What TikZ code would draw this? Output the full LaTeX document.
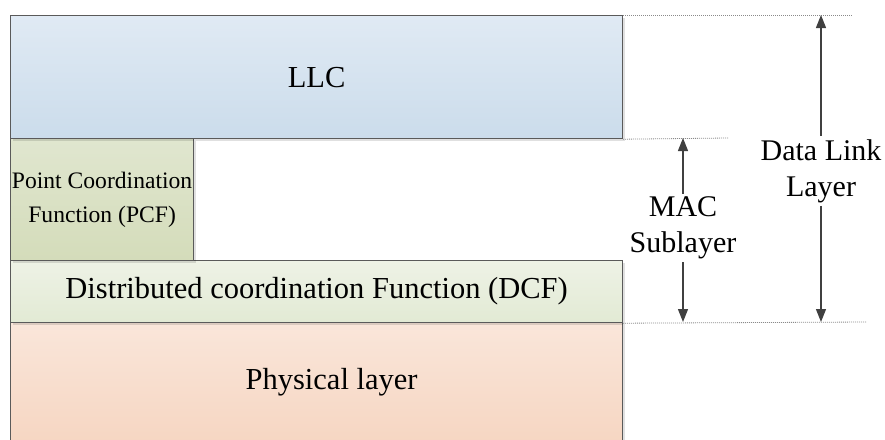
\documentclass[tikz,border=0pt]{standalone}
\usepackage{fontspec}
\setmainfont{Liberation Serif}
\usetikzlibrary{arrows.meta,shadows}
\definecolor{llcTop}{HTML}{E0EAF4}
\definecolor{llcBot}{HTML}{CBDCEB}
\definecolor{pcfTop}{HTML}{E0E6CF}
\definecolor{pcfBot}{HTML}{D4DCBA}
\definecolor{dcfTop}{HTML}{EEF2E6}
\definecolor{dcfBot}{HTML}{E2EAD4}
\definecolor{phyTop}{HTML}{FAE6DA}
\definecolor{phyBot}{HTML}{F6D6C2}
\definecolor{boxline}{HTML}{5A5A5A}
\definecolor{arrowgray}{HTML}{404040}
\definecolor{guidegray}{HTML}{8A8A8A}
\begin{document}
\begin{tikzpicture}[x=1pt,y=-1pt,
  layerbox/.style={rectangle, draw=boxline, line width=1.2pt, anchor=north west,
    inner sep=0pt, align=center, font=\fontsize{30.5}{36}\selectfont,
    drop shadow={shadow xshift=2pt, shadow yshift=-2pt, fill=black, opacity=0.12}},
  guide/.style={draw=guidegray, line width=0.8pt, dash pattern=on 1pt off 1pt},
  dimarrow/.style={draw=arrowgray, line width=1.3pt, -{Triangle[length=13pt,width=10pt]}},
  sidelabel/.style={font=\fontsize{30}{36}\selectfont, align=center, inner sep=3pt}]
\useasboundingbox (0,0) rectangle (885,439);
% layer boxes
\node[layerbox, top color=phyTop, bottom color=phyBot,
  minimum width=612pt, minimum height=120pt] (phy) at (10,322) {\hspace*{30pt}Physical layer};
\node[layerbox, top color=dcfTop, bottom color=dcfBot,
  minimum width=612pt, minimum height=62pt] (dcf) at (10,260) {Distributed coordination Function (DCF)};
\node[layerbox, top color=pcfTop, bottom color=pcfBot,
  minimum width=183pt, minimum height=122pt, font=\fontsize{23.6}{34}\selectfont] (pcf) at (10,138) {Point Coordination\\Function (PCF)};
\node[layerbox, top color=llcTop, bottom color=llcBot,
  minimum width=612pt, minimum height=123pt] (llc) at (10,15) {LLC};
% guide end points
\coordinate (gTop) at (852,15);
\coordinate (gMid) at (728,138);
\coordinate (gBot) at (867,322);
\draw[guide] (llc.north east) -- (gTop);
\draw[guide] (llc.south east) -- (gMid);
\draw[guide] (dcf.south east) -- (gBot);
% labels
\node[sidelabel] (mac) at (683,228) {MAC\\Sublayer};
\node[sidelabel] (dll) at (821,171) {Data Link\\Layer};
% arrow ends
\coordinate (macUp) at (683,138);
\coordinate (macDown) at (683,322);
\coordinate (dllUp) at (821,15);
\coordinate (dllDown) at (821,322);
\draw[dimarrow] (mac.north) -- (macUp);
\draw[dimarrow] (mac.south) -- (macDown);
\draw[dimarrow] (dll.north) -- (dllUp);
\draw[dimarrow] (dll.south) -- (dllDown);
\end{tikzpicture}
\end{document}
